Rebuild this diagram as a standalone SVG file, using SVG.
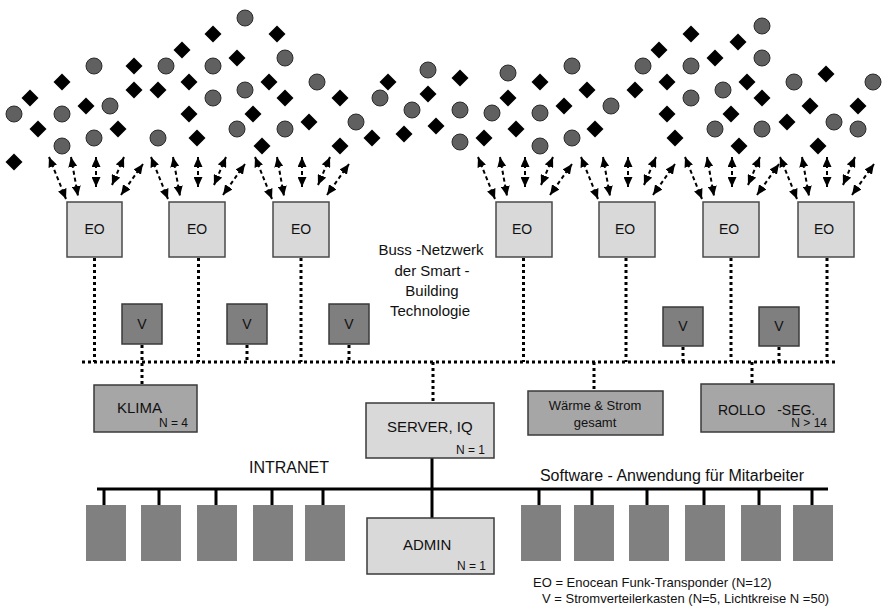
<svg xmlns="http://www.w3.org/2000/svg" xmlns:xlink="http://www.w3.org/1999/xlink" width="884" height="607" viewBox="0 0 884 607">
<style>
text{font-family:"Liberation Sans",Arial,sans-serif;fill:#111}
.eo{fill:#d9d9d9;stroke:#4a4a4a;stroke-width:1.5}
.v{fill:#7f7f7f;stroke:#3a3a3a;stroke-width:1.5}
.mid{fill:#a6a6a6;stroke:#3a3a3a;stroke-width:1.5}
.srv{fill:#d9d9d9;stroke:#3a3a3a;stroke-width:1.5}
.pc{fill:#808080}
.dot{stroke:#000;stroke-width:3;stroke-dasharray:3 3;fill:none}
.solid{stroke:#000;stroke-width:3;fill:none}
.arr{stroke:#000;stroke-width:2;stroke-dasharray:4 3;fill:none;marker-start:url(#ah);marker-end:url(#ah)}
.c{fill:#606060;stroke:#2a2a2a;stroke-width:1}
</style>
<defs>
<marker id="ah" markerUnits="userSpaceOnUse" markerWidth="10" markerHeight="9" refX="10" refY="4.5" orient="auto-start-reverse" viewBox="0 0 10 9"><path d="M0,0 L10,4.5 L0,9 z" fill="#000"/></marker>
<path id="dm" d="M0,-8.5 L8.5,0 L0,8.5 L-8.5,0 z" fill="#000"/>
<g id="fan">
<line class="arr" x1="-18" y1="157" x2="-1" y2="199"/>
<line class="arr" x1="4" y1="157" x2="11" y2="196"/>
<line class="arr" x1="29" y1="157" x2="29" y2="187"/>
<line class="arr" x1="57" y1="157" x2="45" y2="185"/>
<line class="arr" x1="76" y1="164" x2="54" y2="195"/>
</g>
</defs>
<g id="sensors">
<circle class="c" r="8" cx="245" cy="18"/><circle class="c" r="8" cx="285" cy="58"/><circle class="c" r="8" cx="94" cy="66"/><circle class="c" r="8" cx="166" cy="66"/><circle class="c" r="8" cx="213" cy="66"/><circle class="c" r="8" cx="317" cy="82"/><circle class="c" r="8" cx="245" cy="90"/><circle class="c" r="8" cx="213" cy="98"/><circle class="c" r="8" cx="110" cy="106"/><circle class="c" r="8" cx="14" cy="114"/><circle class="c" r="8" cx="62" cy="114"/><circle class="c" r="8" cx="356" cy="122"/><circle class="c" r="8" cx="237" cy="129"/><circle class="c" r="8" cx="285" cy="129"/><circle class="c" r="8" cx="94" cy="138"/><circle class="c" r="8" cx="158" cy="138"/><circle class="c" r="8" cx="62" cy="146"/>
<circle class="c" r="8" cx="428" cy="70"/><circle class="c" r="8" cx="508" cy="73"/><circle class="c" r="8" cx="572" cy="66"/><circle class="c" r="8" cx="380" cy="98"/><circle class="c" r="8" cx="412" cy="110"/><circle class="c" r="8" cx="460" cy="110"/><circle class="c" r="8" cx="492" cy="113"/><circle class="c" r="8" cx="540" cy="113"/><circle class="c" r="8" cx="460" cy="142"/><circle class="c" r="8" cx="540" cy="146"/><circle class="c" r="8" cx="572" cy="138"/>
<circle class="c" r="8" cx="611" cy="106"/><circle class="c" r="8" cx="643" cy="66"/><circle class="c" r="8" cx="762" cy="26"/><circle class="c" r="8" cx="762" cy="58"/><circle class="c" r="8" cx="691" cy="66"/><circle class="c" r="8" cx="794" cy="82"/><circle class="c" r="8" cx="873" cy="82"/><circle class="c" r="8" cx="723" cy="90"/><circle class="c" r="8" cx="691" cy="98"/><circle class="c" r="8" cx="834" cy="122"/><circle class="c" r="8" cx="715" cy="129"/><circle class="c" r="8" cx="762" cy="129"/><circle class="c" r="8" cx="858" cy="129"/>
<use href="#dm" x="213" y="34"/><use href="#dm" x="277" y="34"/><use href="#dm" x="182" y="50"/><use href="#dm" x="237" y="58"/><use href="#dm" x="134" y="66"/><use href="#dm" x="62" y="82"/><use href="#dm" x="189" y="82"/><use href="#dm" x="269" y="82"/><use href="#dm" x="134" y="90"/><use href="#dm" x="158" y="90"/><use href="#dm" x="30" y="98"/><use href="#dm" x="285" y="98"/><use href="#dm" x="340" y="98"/><use href="#dm" x="86" y="106"/><use href="#dm" x="189" y="114"/><use href="#dm" x="253" y="114"/><use href="#dm" x="309" y="122"/><use href="#dm" x="38" y="129"/><use href="#dm" x="118" y="129"/><use href="#dm" x="197" y="138"/><use href="#dm" x="262" y="146"/><use href="#dm" x="340" y="146"/><use href="#dm" x="14" y="162"/>
<use href="#dm" x="388" y="82"/><use href="#dm" x="460" y="78"/><use href="#dm" x="540" y="82"/><use href="#dm" x="587" y="90"/><use href="#dm" x="428" y="94"/><use href="#dm" x="508" y="98"/><use href="#dm" x="564" y="106"/><use href="#dm" x="436" y="126"/><use href="#dm" x="516" y="129"/><use href="#dm" x="595" y="129"/><use href="#dm" x="372" y="138"/><use href="#dm" x="404" y="134"/><use href="#dm" x="484" y="138"/>
<use href="#dm" x="635" y="90"/><use href="#dm" x="659" y="50"/><use href="#dm" x="691" y="34"/><use href="#dm" x="738" y="42"/><use href="#dm" x="715" y="58"/><use href="#dm" x="667" y="82"/><use href="#dm" x="747" y="82"/><use href="#dm" x="826" y="74"/><use href="#dm" x="762" y="98"/><use href="#dm" x="810" y="106"/><use href="#dm" x="858" y="106"/><use href="#dm" x="667" y="114"/><use href="#dm" x="731" y="114"/><use href="#dm" x="787" y="122"/><use href="#dm" x="675" y="138"/><use href="#dm" x="739" y="146"/><use href="#dm" x="818" y="146"/>
</g>
<g id="connectors">
<use href="#fan" x="67"/><use href="#fan" x="169"/><use href="#fan" x="273"/><use href="#fan" x="496"/><use href="#fan" x="599"/><use href="#fan" x="703"/><use href="#fan" x="798"/>
<line class="dot" x1="82" y1="362" x2="838" y2="362"/>
<line class="dot" x1="94.5" y1="258" x2="94.5" y2="362"/>
<line class="dot" x1="198.5" y1="258" x2="198.5" y2="362"/>
<line class="dot" x1="301" y1="258" x2="301" y2="362"/>
<line class="dot" x1="523.5" y1="258" x2="523.5" y2="362"/>
<line class="dot" x1="626" y1="258" x2="626" y2="362"/>
<line class="dot" x1="731" y1="258" x2="731" y2="362"/>
<line class="dot" x1="827" y1="258" x2="827" y2="362"/>
<line class="dot" x1="142" y1="345" x2="142" y2="385"/>
<line class="dot" x1="247" y1="345" x2="247" y2="362"/>
<line class="dot" x1="349" y1="345" x2="349" y2="362"/>
<line class="dot" x1="683" y1="347" x2="683" y2="362"/>
<line class="dot" x1="779" y1="347" x2="779" y2="362"/>
<line class="dot" x1="433" y1="362" x2="433" y2="403"/>
<line class="dot" x1="594" y1="362" x2="594" y2="391"/>
<line class="dot" x1="752" y1="362" x2="752" y2="384"/>
<line class="solid" x1="97" y1="489" x2="828" y2="489"/>
<line class="solid" x1="432" y1="458" x2="432" y2="518"/>
<g class="ticks">
<line class="solid" x1="104" y1="489" x2="104" y2="505"/><line class="solid" x1="159" y1="489" x2="159" y2="505"/><line class="solid" x1="216" y1="489" x2="216" y2="505"/><line class="solid" x1="272" y1="489" x2="272" y2="505"/><line class="solid" x1="323" y1="489" x2="323" y2="505"/>
<line class="solid" x1="539" y1="489" x2="539" y2="505"/><line class="solid" x1="592" y1="489" x2="592" y2="505"/><line class="solid" x1="647" y1="489" x2="647" y2="505"/><line class="solid" x1="704" y1="489" x2="704" y2="505"/><line class="solid" x1="759" y1="489" x2="759" y2="505"/><line class="solid" x1="812" y1="489" x2="812" y2="505"/>
</g>
</g>
<g id="eo1"><rect class="eo" x="67" y="202" width="55" height="55"/><text x="94.5" y="234" font-size="14" text-anchor="middle">EO</text></g>
<g id="eo2"><rect class="eo" x="169" y="202" width="56" height="55"/><text x="197" y="234" font-size="14" text-anchor="middle">EO</text></g>
<g id="eo3"><rect class="eo" x="273" y="202" width="56" height="55"/><text x="301" y="234" font-size="14" text-anchor="middle">EO</text></g>
<g id="eo4"><rect class="eo" x="496" y="202" width="56" height="55"/><text x="522" y="234" font-size="14" text-anchor="middle">EO</text></g>
<g id="eo5"><rect class="eo" x="599" y="202" width="56" height="55"/><text x="625" y="234" font-size="14" text-anchor="middle">EO</text></g>
<g id="eo6"><rect class="eo" x="703" y="202" width="56" height="55"/><text x="729" y="234" font-size="14" text-anchor="middle">EO</text></g>
<g id="eo7"><rect class="eo" x="798" y="202" width="56" height="55"/><text x="824" y="234" font-size="14" text-anchor="middle">EO</text></g>
<g id="v1"><rect class="v" x="122" y="304" width="40" height="40"/><text x="142" y="329" font-size="14" text-anchor="middle">V</text></g>
<g id="v2"><rect class="v" x="227" y="304" width="40" height="40"/><text x="247" y="329" font-size="14" text-anchor="middle">V</text></g>
<g id="v3"><rect class="v" x="329" y="304" width="40" height="40"/><text x="349" y="329" font-size="14" text-anchor="middle">V</text></g>
<g id="v4"><rect class="v" x="663" y="307" width="40" height="39"/><text x="683" y="331" font-size="14" text-anchor="middle">V</text></g>
<g id="v5"><rect class="v" x="759" y="307" width="40" height="39"/><text x="779" y="331" font-size="14" text-anchor="middle">V</text></g>
<g id="bus-label"><text font-size="15" text-anchor="middle"><tspan x="431" y="255">Buss -Netzwerk</tspan><tspan x="432" y="276">der Smart -</tspan><tspan x="432" y="296">Building</tspan><tspan x="430" y="316">Technologie</tspan></text></g>
<g id="klima"><rect class="mid" x="94" y="385" width="103" height="47"/><text x="117" y="413" font-size="15">KLIMA</text><text x="188" y="427" font-size="12" text-anchor="end">N = 4</text></g>
<g id="server"><rect class="srv" x="366" y="403" width="128" height="55"/><text x="387" y="432" font-size="15">SERVER, IQ</text><text x="485" y="454" font-size="12" text-anchor="end">N = 1</text></g>
<g id="waerme"><rect class="mid" x="528" y="391" width="135" height="44"/><text x="595" y="410" font-size="13" text-anchor="middle">Wärme &amp; Strom</text><text x="595" y="427" font-size="13" text-anchor="middle">gesamt</text></g>
<g id="rollo"><rect class="mid" x="701" y="384" width="133" height="48"/><text x="718" y="415" font-size="14" xml:space="preserve">ROLLO   -SEG.</text><text x="827" y="427" font-size="12" text-anchor="end">N &gt; 14</text></g>
<g id="admin"><rect class="srv" x="367" y="518" width="127" height="56"/><text x="403" y="550" font-size="15">ADMIN</text><text x="486" y="570" font-size="12" text-anchor="end">N = 1</text></g>
<g id="intranet-label"><text x="289" y="473" font-size="16" text-anchor="middle">INTRANET</text></g>
<g id="software-label"><text x="672" y="481" font-size="16" text-anchor="middle">Software - Anwendung für Mitarbeiter</text></g>
<g id="pcs">
<rect class="pc" x="86" y="505" width="40" height="56"/><rect class="pc" x="141" y="505" width="40" height="56"/><rect class="pc" x="197" y="505" width="40" height="56"/><rect class="pc" x="253" y="505" width="40" height="56"/><rect class="pc" x="305" y="505" width="40" height="56"/>
<rect class="pc" x="521" y="505" width="40" height="56"/><rect class="pc" x="574" y="505" width="40" height="56"/><rect class="pc" x="629" y="505" width="40" height="56"/><rect class="pc" x="685" y="505" width="40" height="56"/><rect class="pc" x="741" y="505" width="40" height="56"/><rect class="pc" x="793" y="505" width="40" height="56"/>
</g>
<g id="legend"><text x="533" y="587" font-size="13">EO = Enocean Funk-Transponder (N=12)</text><text x="542" y="603" font-size="13">V = Stromverteilerkasten (N=5, Lichtkreise N =50)</text></g>
</svg>
